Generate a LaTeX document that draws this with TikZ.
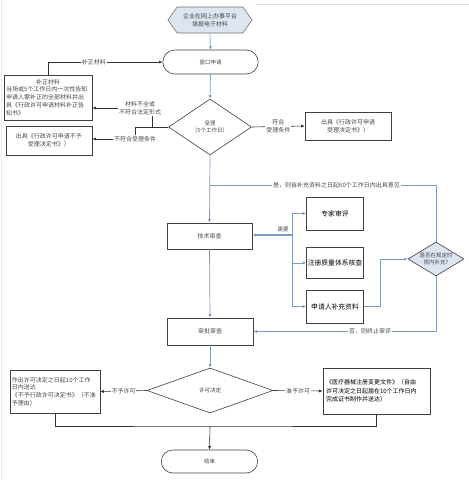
\documentclass[tikz,border=0pt]{standalone}
\usepackage{fontspec}
\setmainfont{Noto Sans CJK SC}
\usetikzlibrary{shapes.geometric,shapes.misc,shapes.symbols,arrows.meta}
\definecolor{lnblue}{HTML}{7B9AC6}
\definecolor{fillblue}{HTML}{DDE5F1}
\definecolor{txtgray}{HTML}{4A4A4A}
\begin{document}
\begin{tikzpicture}[x=1pt,y=-1pt,
  base/.style={font=\fontsize{6}{7.8}\selectfont, text=txtgray},
  box/.style={base, draw=black!75, line width=0.6pt, fill=white, inner sep=2pt},
  blkbox/.style={box, font=\fontsize{6.8}{8.5}\selectfont, text=black, inner sep=0.5pt},
  stad/.style={base, rounded rectangle, draw=black!75, line width=0.6pt, fill=white, font=\fontsize{5.5}{7}\selectfont},
  dia/.style={base, diamond, draw=black!75, line width=0.6pt, fill=white, inner sep=0pt, align=center},
  bl/.style={draw=lnblue, line width=0.7pt},
  dk/.style={draw=black!80, line width=0.6pt},
  arr/.style={-{Latex[length=3.5pt,width=3pt]}},
  lbl/.style={base, fill=white, inner sep=0.8pt, align=center}
]
\useasboundingbox (0,0) rectangle (469,480);
\draw[black!12, line width=0.8pt] (255,4) -- (469,4);
\draw[black!8, line width=1pt] (1.5,0) -- (1.5,480);

% nodes
\node[base, signal, signal to=east and west, signal pointer angle=110, draw=black!55, line width=0.6pt, fill=fillblue,
      minimum width=84pt, minimum height=26pt, inner sep=0pt, align=center] (start) at (210,20)
      {企业在网上办事平台\\填报电子材料};
\node[stad, minimum width=102pt, minimum height=24pt] (window) at (210.5,62) {窗口申请};
\node[dia, minimum width=83pt, minimum height=56pt, shape aspect=1.5, font=\fontsize{5.5}{7}\selectfont] (accept) at (210,127)
      {受理\\（5个工作日）};
\node[box, text width=84pt, minimum height=45pt, align=left, inner sep=2pt] (fix) at (48,97.5)
      {\makebox[84pt]{补正材料}\\当场或5个工作日内一次性告知\\申请人需补正的全部材料并出\\具《行政许可申请材料补正告\\知书》};
\node[box, minimum width=86pt, minimum height=29pt, align=center] (rej) at (49,140.5)
      {出具《行政许可申请不予\\受理决定书》）};
\node[box, minimum width=86pt, minimum height=28pt, align=center] (accbox) at (348,126)
      {出具《行政许可申请\\受理决定书》）};
\node[lbl] (lackl) at (140,108) {材料不全或\\不符合法定形式};
\node[lbl] (rejl) at (135,139) {不符合受理条件};

\node[box, minimum width=85pt, minimum height=26pt] (tech) at (209.5,236) {技术审查};
\node[blkbox, minimum width=57pt, minimum height=33pt] (expert) at (335,213.5) {专家审评};
\node[blkbox, minimum width=57pt, minimum height=31pt] (qms) at (335,263) {注册质量体系核查};
\node[blkbox, minimum width=57pt, minimum height=33pt] (supp) at (335,306.5) {申请人补充资料};
\node[dia, fill=fillblue, minimum width=56pt, minimum height=34pt,
      label={[base, font=\fontsize{5.5}{6.8}\selectfont, align=center]center:是否在规定时\\限内补充?}] (chk) at (436,259) {};
\node[box, minimum width=86pt, minimum height=27pt] (approve) at (210,331.5) {审批审查};
\node[dia, minimum width=126pt, minimum height=45pt, font=\fontsize{5.5}{7}\selectfont] (dec) at (210,390.5) {许可决定};
\node[box, text width=86pt, minimum height=43pt, align=left, inner sep=2pt] (nbox) at (55,391.5)
      {作出许可决定之日起10个工作\\日内送达\\《不予行政许可决定书》（不准\\予理由）};
\node[box, text width=101pt, minimum height=46pt, align=left, inner sep=3pt, font=\fontsize{6}{8.5}\selectfont, text=black] (ybox) at (376.5,391)
      {《医疗器械注册变更文件》（自由\\许可决定之日起届在10个工作日内\\完成证书制作并送达）\\[4pt]};
\node[stad, minimum width=103pt, minimum height=23pt] (end) at (209.5,461.5) {结束};

\coordinate (c1) at (152,127);
\coordinate (c2) at (135,127);
\coordinate (j1) at (210,185);
\coordinate (tb) at (292,235);
\coordinate (c3) at (380,259);
\coordinate (j2) at (210,426);

% connectors
\draw[bl,arr] (start.south) -- (window.north);
\draw[bl,arr] (window.south) -- (accept.north);
\draw[dk,arr] (fix.north) |- node[lbl,pos=0.7] (fixl) {补正材料} (window.west);
\draw[dk] (accept.west) -- (c2);
\draw[dk] (c1) -- (c1 |- lackl.south);
\draw[dk] (c2) -- (rejl.north);
\draw[dk,arr] (lackl.west) -- (fix.east |- lackl.west);
\draw[dk,arr] (rejl.west) -- (rej.east |- rejl.west);
\draw[dk,arr] (accept.east) -- node[lbl] (okl) {符合\\受理条件} (accbox.west);

\draw[bl,arr] (accept.south) -- (tech.north);
\draw[bl] (chk.north) |- node[lbl,pos=0.72] (yesl) {是，则自补充资料之日起60个工作日内出具意见} (j1);
\draw[bl,arr] (tb) |- (expert.west);
\draw[bl,arr] (tb) |- (qms.west);
\draw[bl,arr] (tb) |- (supp.west);
\draw[bl,line width=1.3pt,arr] (tb) -- (tech.east |- tb);
\node[lbl, fill=none, font=\fontsize{5.5}{7}\selectfont] (needl) at (283,230) {需要};
\draw[bl,arr] (supp.east) -| (c3) -- (chk.west);
\draw[bl,arr] (chk.south) |- node[lbl,pos=0.68] (nol) {否，则终止审评} (approve.east);
\draw[bl,arr] (tech.south) -- (approve.north);
\draw[bl,arr] (approve.south) -- (dec.north);

\draw[dk,arr] (dec.west) -- node[lbl] (nol2) {不予许可} (nbox.east);
\draw[dk,arr] (dec.east) -- node[lbl] (yesl2) {准予许可} (ybox.west);
\draw[dk] (nbox.south) |- (j2) -| (ybox.south);
\draw[dk,arr] (j2) -- (end.north);
\end{tikzpicture}
\end{document}
